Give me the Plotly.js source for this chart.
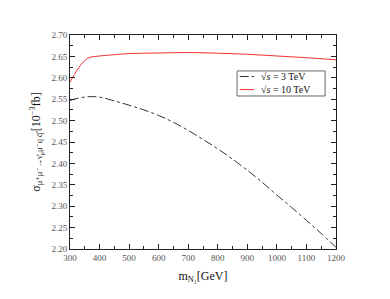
<!DOCTYPE html>
<html><head><meta charset="utf-8">
<script src="https://cdn.plot.ly/plotly-3.0.1.min.js"></script>
<style>body{margin:0;background:#fff}</style>
</head><body>
<div id="chart" style="width:390px;height:299px"></div>
<script>
const mass3 = [300, 325, 350, 375, 400, 450, 500, 550, 600, 650, 700, 750, 800, 850, 900, 950, 1000, 1050, 1100, 1150, 1200];
const sigma3 = [2.547, 2.552, 2.555, 2.556, 2.555, 2.546, 2.536, 2.525, 2.512, 2.496, 2.477, 2.456, 2.434, 2.410, 2.384, 2.356, 2.326, 2.297, 2.267, 2.236, 2.204];
const mass10 = [300, 315, 330, 345, 360, 375, 400, 450, 500, 600, 700, 800, 900, 1000, 1100, 1200];
const sigma10 = [2.590, 2.608, 2.624, 2.637, 2.646, 2.649, 2.651, 2.654, 2.6565, 2.658, 2.659, 2.6575, 2.655, 2.651, 2.647, 2.642];
const seriesNames = ["\u221A<i>s</i> = 3 TeV", "\u221A<i>s</i> = 10 TeV"];
const seriesColors = ["#333", "#f03030"];
const seriesDash = ["dashdot", "solid"];

const serif = "Liberation Serif, DejaVu Serif, serif";
const axisCommon = {
  showline: true, linecolor: "#222", linewidth: 1, mirror: "ticks",
  ticks: "inside", ticklen: 5, tickcolor: "#222", showgrid: false, zeroline: false,
  tickfont: {family: serif, size: 9, color: "#555"}
};
const data = [
  {x: mass3, y: sigma3, type: "scatter", mode: "lines", name: seriesNames[0],
   line: {color: seriesColors[0], width: 1, dash: seriesDash[0], shape: "spline"}},
  {x: mass10, y: sigma10, type: "scatter", mode: "lines", name: seriesNames[1],
   line: {color: seriesColors[1], width: 1, dash: seriesDash[1], shape: "spline"}}
];

// hand-drawn compact legend (paper coordinates)
const legX0 = 0.628, legX1 = 0.959, legY0 = 0.715, legY1 = 0.832;
const rowY = [0.806, 0.745];
const shapes = [{type: "rect", xref: "paper", yref: "paper", x0: legX0, x1: legX1, y0: legY0, y1: legY1,
  line: {color: "#666", width: 1}, fillcolor: "#fff", layer: "above"}];
const annotations = [];
seriesNames.forEach((n, i) => {
  shapes.push({type: "line", xref: "paper", yref: "paper", x0: 0.638, x1: 0.692, y0: rowY[i], y1: rowY[i],
    line: {color: seriesColors[i], width: 1, dash: seriesDash[i]}, layer: "above"});
  annotations.push({xref: "paper", yref: "paper", x: 0.71, y: rowY[i], xanchor: "left", yanchor: "middle",
    text: n, showarrow: false, font: {family: serif, size: 10, color: "#111"}});
});

const layout = {
  width: 390, height: 299,
  margin: {l: 70, r: 54, t: 35, b: 50},
  paper_bgcolor: "#fff", plot_bgcolor: "#fff",
  showlegend: false,
  shapes: shapes, annotations: annotations,
  xaxis: Object.assign({}, axisCommon, {
    range: [300, 1200], dtick: 100, tick0: 300,
    minor: {ticks: "inside", ticklen: 3, tickcolor: "#222", dtick: 50},
    title: {text: "m<sub>N\u2081</sub>[GeV]", font: {family: serif, size: 12, color: "#111"}, standoff: 9}
  }),
  yaxis: Object.assign({}, axisCommon, {
    range: [2.20, 2.70], dtick: 0.05, tick0: 2.2, tickformat: ".2f",
    minor: {ticks: "inside", ticklen: 3, tickcolor: "#222", dtick: 0.025},
    title: {text: "\u03C3<sub>\u03BC\u207A\u03BC\u207B\u2192\u03BD\u0304<sub>\u03BC</sub>\u03BC\u207Bq q\u0304'</sub>[10<sup>\u22123</sup>fb]", font: {family: serif, size: 12, color: "#111"}, standoff: 8}
  })
};
Plotly.newPlot("chart", data, layout, {displayModeBar: false, staticPlot: true});
</script>
</body></html>
